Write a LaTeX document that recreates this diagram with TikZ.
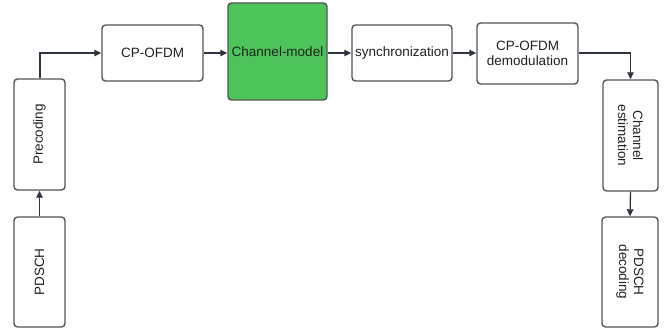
\documentclass[tikz,border=0pt]{standalone}
\usepackage{fontspec}
\setmainfont{Liberation Sans}
\usetikzlibrary{arrows.meta}
\definecolor{boxline}{HTML}{555555}
\definecolor{arrowcol}{HTML}{2E3440}
\definecolor{chgreen}{HTML}{4DC459}
\definecolor{txt}{HTML}{222222}
\tikzset{
  blk/.style={draw=boxline, line width=1.4pt, rounded corners=3.5pt, fill=white,
    inner sep=1pt, align=center, text=txt, font=\fontsize{13.5}{15}\selectfont},
  conn/.style={draw=arrowcol, line width=1.3pt, -{Triangle[length=7pt,width=6.5pt]}}
}
\begin{document}
\begin{tikzpicture}[x=1pt,y=-1pt]
\useasboundingbox (0,0) rectangle (664,328);
\node[blk, minimum width=51pt, minimum height=110pt] (pdsch) at (39.5,272) {};
\node[rotate=90, text=txt, font=\fontsize{13.5}{15}\selectfont] (pdschT) at (pdsch.center) {PDSCH};
\node[blk, minimum width=51pt, minimum height=111pt] (prec) at (39.5,134.5) {};
\node[rotate=90, text=txt, font=\fontsize{13.5}{15}\selectfont] (precT) at (prec.center) {Precoding};
\node[blk, minimum width=101pt, minimum height=56pt] (cpofdm) at (152.5,53) {CP-OFDM};
\node[blk, fill=chgreen, minimum width=99pt, minimum height=97pt] (chan) at (277.5,51.5) {Channel-model};
\node[blk, minimum width=100pt, minimum height=56pt] (sync) at (402,53) {synchronization};
\node[blk, minimum width=101pt, minimum height=61pt] (demod) at (527.5,53.5) {CP-OFDM\\demodulation};
\node[blk, minimum width=55pt, minimum height=111pt] (est) at (630.5,135.5) {};
\node[rotate=-90, align=center, text=txt, font=\fontsize{13.5}{15}\selectfont] (estT) at (est.center) {Channel\\estimation};
\node[blk, minimum width=56pt, minimum height=110pt] (dec) at (630,272) {};
\node[rotate=-90, align=center, text=txt, font=\fontsize{13.5}{15}\selectfont] (decT) at (dec.center) {PDSCH\\decoding};
\coordinate (pt) at (40,0);
\draw[conn] (pdsch.north) -- (prec.south);
\draw[conn] (pt |- prec.north) |- (cpofdm.west);
\draw[conn] (cpofdm.east) -- (chan.west |- cpofdm.east);
\draw[conn] (chan.east |- sync.west) -- (sync.west);
\draw[conn] (sync.east) -- (demod.west |- sync.east);
\draw[conn] (demod.east |- sync.east) -| (est.north);
\draw[conn] (est.south) -- (dec.north);
\end{tikzpicture}
\end{document}
